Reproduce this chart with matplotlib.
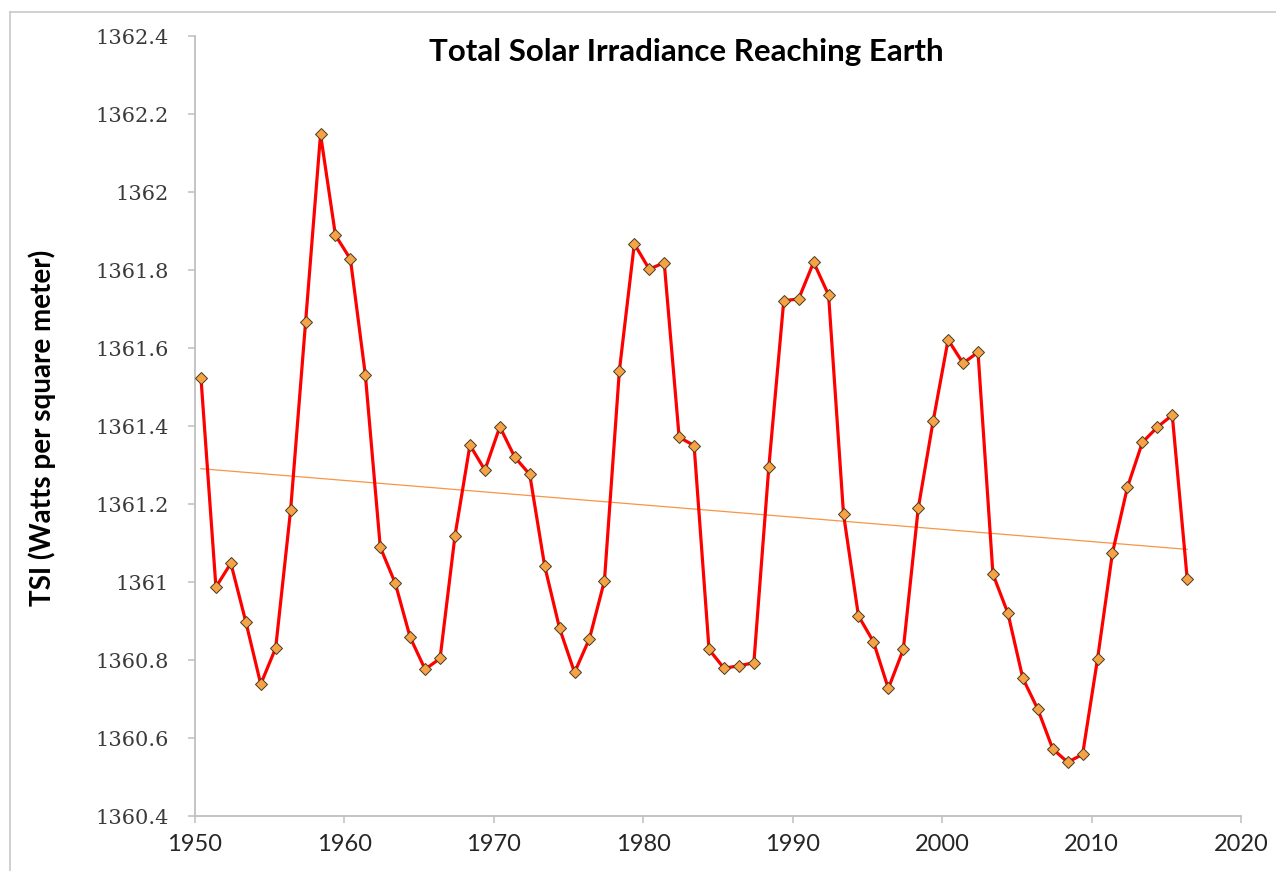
import numpy as np
import matplotlib
matplotlib.use("Agg")
import matplotlib.pyplot as plt
from matplotlib.lines import Line2D

years = list(range(1950, 2017))
tsi = [1361.523, 1360.987, 1361.048, 1360.898, 1360.738, 1360.831, 1361.185, 1361.666,
       1362.148, 1361.889, 1361.828, 1361.531, 1361.089, 1360.997, 1360.858, 1360.776,
       1360.804, 1361.119, 1361.351, 1361.287, 1361.398, 1361.320, 1361.276, 1361.041,
       1360.881, 1360.768, 1360.855, 1361.003, 1361.542, 1361.867, 1361.802, 1361.819,
       1361.371, 1361.350, 1360.827, 1360.779, 1360.785, 1360.793, 1361.294, 1361.721,
       1361.726, 1361.820, 1361.736, 1361.174, 1360.913, 1360.847, 1360.727, 1360.827,
       1361.189, 1361.413, 1361.621, 1361.561, 1361.589, 1361.020, 1360.920, 1360.753,
       1360.674, 1360.572, 1360.538, 1360.558, 1360.803, 1361.075, 1361.243, 1361.358,
       1361.397, 1361.428, 1361.008]
x_ticks = [1950, 1960, 1970, 1980, 1990, 2000, 2010, 2020]
y_ticks = [1360.4, 1360.6, 1360.8, 1361.0, 1361.2, 1361.4, 1361.6, 1361.8, 1362.0, 1362.2, 1362.4]
y_tick_labels = ["1360.4", "1360.6", "1360.8", "1361", "1361.2", "1361.4", "1361.6",
                 "1361.8", "1362", "1362.2", "1362.4"]
title = "Total Solar Irradiance Reaching Earth"
ylabel = "TSI (Watts per square meter)"

W, H = 1276, 871
fig = plt.figure(figsize=(W / 100, H / 100), dpi=100)
ax = fig.add_axes([195 / W, 1 - 816 / H, (1241 - 195) / W, (816 - 36) / H])

x = np.array(years) + 0.4
y = np.array(tsi)

# linear trend
k, b = np.polyfit(x, y, 1)
xt = np.array([x[0], x[-1]])
ax.plot(xt, k * xt + b, color="#F79646", lw=0.9, zorder=2)

ax.plot(x, y, color="#FF0000", lw=2.3, zorder=3,
        marker="D", markersize=6.3, markerfacecolor="#F5A345",
        markeredgecolor="#4a3a20", markeredgewidth=0.7)

ax.set_xlim(1950, 2020)
ax.set_ylim(1360.4, 1362.4)
ax.set_xticks(x_ticks)
ax.set_xticklabels([str(t) for t in x_ticks], fontfamily="Lato", fontsize=17, color="#262626")
ax.set_yticks(y_ticks)
ax.set_yticklabels(y_tick_labels, fontfamily="DejaVu Serif", fontsize=15, color="#3a3a3a")

for s in ["top", "right"]:
    ax.spines[s].set_visible(False)
for s in ["left", "bottom"]:
    ax.spines[s].set_color("#BFBFBF")
    ax.spines[s].set_linewidth(1.3)
ax.tick_params(axis="both", direction="out", length=5, width=1.1, color="#BFBFBF")
ax.tick_params(axis="y", pad=14)
ax.tick_params(axis="x", pad=8)

fig.text(686 / W, 1 - 52 / H, title, ha="center", va="center",
         fontfamily="Lato", fontweight="bold", fontsize=22.5, color="#000000")
fig.text(42 / W, 1 - 428 / H, ylabel, ha="center", va="center", rotation=90,
         fontfamily="Lato", fontweight="bold", fontsize=20, color="#000000")

# chart border (top & left visible)
fig.add_artist(Line2D([10 / W, 10 / W], [0, 1 - 12 / H], transform=fig.transFigure,
                      color="#C8C8C8", lw=1.2))
fig.add_artist(Line2D([10 / W, 1], [1 - 12 / H, 1 - 12 / H], transform=fig.transFigure,
                      color="#C8C8C8", lw=1.2))

fig.savefig("out.png", dpi=100)
